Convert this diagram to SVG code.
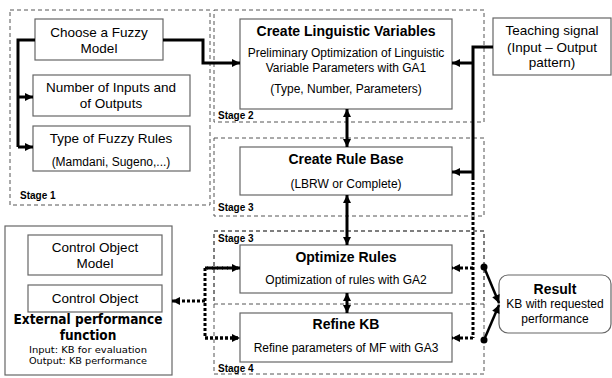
<svg xmlns="http://www.w3.org/2000/svg" width="612" height="378" viewBox="0 0 612 378">
<style>
.stage{fill:none;stroke:#555;stroke-width:1;stroke-dasharray:4,3}
.box{fill:#fff;stroke:#666;stroke-width:1.2}
.t{font-family:"Liberation Sans",Arial,sans-serif;font-size:13.5px;fill:#000;text-anchor:middle}
.s{font-family:"Liberation Sans",Arial,sans-serif;font-size:12px;fill:#000;text-anchor:middle}
.b{font-family:"Liberation Sans",Arial,sans-serif;font-size:14px;font-weight:bold;fill:#000;text-anchor:middle}
.lbl{font-family:"Liberation Sans",Arial,sans-serif;font-size:10px;font-weight:bold;fill:#000}
.tah{font-family:"DejaVu Sans",Verdana,sans-serif;fill:#000;text-anchor:middle}
.c{fill:none;stroke:#000;stroke-width:3}
.d{fill:none;stroke:#000;stroke-width:3;stroke-dasharray:3,2}
.thin{fill:none;stroke:#000;stroke-width:2.5}
</style>
<defs>
<marker id="ah" viewBox="0 0 10 10" refX="10" refY="5" markerWidth="9" markerHeight="8" markerUnits="userSpaceOnUse" orient="auto-start-reverse">
<path d="M0,0 L10,5 L0,10 Z" fill="#000"/>
</marker>
</defs>
<rect width="612" height="378" fill="#fff"/>

<g id="stages">
<rect class="stage" x="10" y="10" width="200" height="195"/>
<text class="lbl" x="20" y="199">Stage 1</text>
<rect class="stage" x="214" y="10" width="270" height="112"/>
<text class="lbl" x="218" y="119">Stage 2</text>
<rect class="stage" x="214" y="138" width="270" height="78"/>
<text class="lbl" x="218" y="211">Stage 3</text>
<rect class="stage" x="214" y="231" width="270" height="73"/>
<text class="lbl" x="218" y="242">Stage 3</text>
<rect class="stage" x="214" y="231" width="270" height="143"/>
<text class="lbl" x="218" y="372">Stage 4</text>
</g>

<g id="choose">
<rect class="box" x="35" y="19" width="128" height="41"/>
<text class="t" x="99" y="37">Choose a Fuzzy</text>
<text class="t" x="99" y="53">Model</text>
</g>
<g id="number">
<rect class="box" x="33" y="75" width="157" height="41"/>
<text class="t" x="111" y="92">Number of Inputs and</text>
<text class="t" x="111" y="108">of Outputs</text>
</g>
<g id="type">
<rect class="box" x="33" y="126" width="157" height="45"/>
<text class="t" x="111" y="143">Type of Fuzzy Rules</text>
<text class="s" x="111" y="166">(Mamdani, Sugeno,...)</text>
</g>

<g id="createLV">
<rect class="box" x="240" y="19" width="212" height="90"/>
<text class="b" x="346" y="36">Create Linguistic Variables</text>
<text class="s" x="346" y="57">Preliminary Optimization of Linguistic</text>
<text class="s" x="346" y="72">Variable Parameters with GA1</text>
<text class="s" x="346" y="93">(Type, Number, Parameters)</text>
</g>
<g id="teaching">
<rect class="box" x="493" y="18" width="118" height="57"/>
<text class="t" x="552" y="35">Teaching signal</text>
<text class="t" x="552" y="52">(Input – Output</text>
<text class="t" x="552" y="67">pattern)</text>
</g>
<g id="ruleBase">
<rect class="box" x="240" y="147" width="212" height="48"/>
<text class="b" x="346" y="164">Create Rule Base</text>
<text class="s" x="346" y="188">(LBRW or Complete)</text>
</g>
<g id="optimize">
<rect class="box" x="240" y="245" width="212" height="48"/>
<text class="b" x="346" y="262">Optimize Rules</text>
<text class="s" x="346" y="284">Optimization of rules with GA2</text>
</g>
<g id="refine">
<rect class="box" x="240" y="313" width="212" height="49"/>
<text class="b" x="346" y="329">Refine KB</text>
<text class="s" x="346" y="352">Refine parameters of MF with GA3</text>
</g>
<g id="result">
<rect class="box" x="499" y="275" width="112" height="58" rx="9"/>
<text class="b" x="555" y="294">Result</text>
<text class="s" x="555" y="308">KB with requested</text>
<text class="s" x="555" y="323">performance</text>
</g>
<g id="external">
<rect class="box" x="5" y="226" width="167" height="149"/>
<rect class="box" x="28" y="235" width="134" height="40"/>
<text class="t" x="95" y="252">Control Object</text>
<text class="t" x="95" y="268">Model</text>
<rect class="box" x="28" y="285" width="134" height="27"/>
<text class="t" x="95" y="303">Control Object</text>
<text class="tah" x="88" y="324" font-size="13.5" font-weight="bold" style="font-stretch:condensed">External performance</text>
<text class="tah" x="88" y="340" font-size="13.5" font-weight="bold" style="font-stretch:condensed">function</text>
<text class="tah" x="88" y="353" font-size="9" textLength="118" lengthAdjust="spacingAndGlyphs">Input: KB for evaluation</text>
<text class="tah" x="88" y="364" font-size="9" textLength="118" lengthAdjust="spacingAndGlyphs">Output: KB performance</text>
</g>

<g id="connectors">
<path class="c" d="M35,40 H18 V147"/>
<path class="c" d="M18,97 H33" marker-end="url(#ah)"/>
<path class="c" d="M18,147 H33" marker-end="url(#ah)"/>
<path class="c" d="M163,40 H203 V63 H240" marker-end="url(#ah)"/>
<path class="c" d="M493,47 H473 V177"/>
<path class="c" d="M473,63 H452" marker-end="url(#ah)"/>
<path class="c" d="M473,172 H452" marker-end="url(#ah)"/>
<path class="d" d="M473,177 V338"/>
<path class="d" d="M473,268 H452" marker-end="url(#ah)"/>
<path class="d" d="M473,338 H452" marker-end="url(#ah)"/>
<path class="c" d="M347,109 V147" marker-start="url(#ah)" marker-end="url(#ah)"/>
<path class="c" d="M347,195 V245" marker-start="url(#ah)" marker-end="url(#ah)"/>
<path class="c" d="M347,293 V313" marker-start="url(#ah)" marker-end="url(#ah)"/>
<path class="d" d="M240,268 H205 V338 H240"/>
<path class="d" d="M205,268 H240" marker-end="url(#ah)"/>
<path class="d" d="M205,338 H240" marker-end="url(#ah)"/>
<path class="d" d="M205,301 H172" marker-end="url(#ah)"/>
<circle cx="484" cy="267" r="3.5" fill="#000"/>
<circle cx="484" cy="340" r="3.5" fill="#000"/>
<path class="thin" d="M484,267 L499,303" marker-end="url(#ah)"/>
<path class="thin" d="M484,340 L499,305" marker-end="url(#ah)"/>
</g>
</svg>
